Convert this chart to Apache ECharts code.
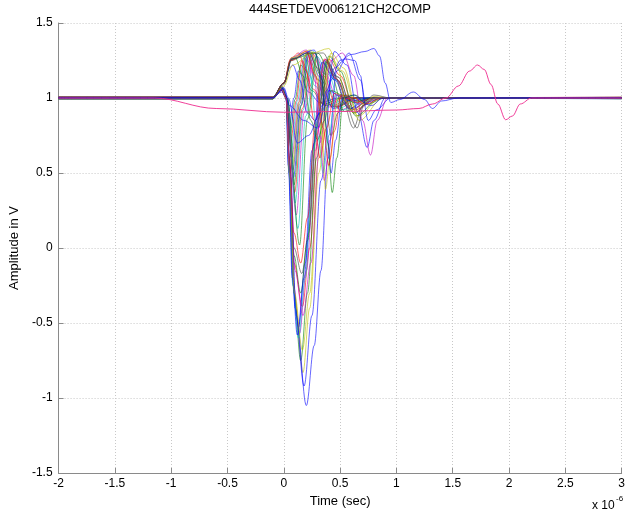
<!DOCTYPE html>
<html>
<head>
<meta charset="utf-8">
<script src="https://cdn.jsdelivr.net/npm/echarts@6/dist/echarts.min.js"></script>
<style>html,body{margin:0;padding:0;background:#fff}#c{width:628px;height:516px}</style>
</head>
<body>
<div id="c"></div>
<script>
// Tick settings (x in units of 1e-6 s)
const xTicks = [-2, -1.5, -1, -0.5, 0, 0.5, 1, 1.5, 2, 2.5, 3];
const yTicks = [-1.5, -1, -0.5, 0, 0.5, 1, 1.5];

// Early-drop waveforms (shallow first dip)
const wA01 = [[-2,1.006],[-0.1,1.006],[-0.02,1.04],[0.02,1.01],[0.05,0.82],[0.09,1.0],[0.13,1.18],[0.22,1.04],[0.32,0.97],[0.5,1.002],[3,1.004]];
const wA02 = [[-2,0.995],[-0.1,0.995],[-0.02,1.05],[0.02,1.0],[0.055,0.76],[0.1,0.99],[0.15,1.22],[0.25,1.05],[0.35,0.96],[0.52,1.0],[3,0.996]];
const wA03 = [[-2,1.008],[-0.1,1.008],[-0.02,1.05],[0.02,1.0],[0.06,0.7],[0.11,0.98],[0.16,1.25],[0.26,1.06],[0.36,0.95],[0.55,1.0],[3,1.006]];
const wA04 = [[-2,0.993],[-0.1,0.993],[-0.02,1.06],[0.02,1.0],[0.065,0.65],[0.12,0.98],[0.18,1.27],[0.28,1.08],[0.38,0.95],[0.58,1.0],[3,0.994]];
const wA05 = [[-2,1.002],[-0.1,1.002],[-0.02,1.06],[0.02,1.01],[0.07,0.6],[0.13,0.97],[0.19,1.28],[0.29,1.1],[0.4,0.94],[0.6,1.0],[3,1.001]];
const wA06 = [[-2,0.999],[-0.1,0.999],[-0.02,1.05],[0.025,1.0],[0.075,0.56],[0.135,0.97],[0.2,1.3],[0.3,1.12],[0.42,0.95],[0.62,1.0],[3,0.999]];
const wA07 = [[-2,1.005],[-0.1,1.005],[-0.02,1.06],[0.025,1.0],[0.08,0.52],[0.14,0.96],[0.21,1.3],[0.31,1.12],[0.43,0.94],[0.63,1.0],[3,1.003]];
const wA08 = [[-2,0.996],[-0.1,0.996],[-0.02,1.07],[0.025,1.0],[0.085,0.47],[0.15,0.95],[0.22,1.31],[0.32,1.14],[0.44,0.93],[0.64,1.0],[3,0.997]];
const wA09 = [[-2,1.003],[-0.1,1.003],[-0.02,1.06],[0.025,1.0],[0.09,0.42],[0.155,0.95],[0.23,1.31],[0.33,1.15],[0.45,0.94],[0.65,1.0],[3,1.002]];
const wA10 = [[-2,0.998],[-0.1,0.998],[-0.02,1.07],[0.03,1.0],[0.095,0.37],[0.165,0.93],[0.25,1.3],[0.35,1.15],[0.47,0.94],[0.66,1.0],[3,0.998]];
const wA11 = [[-2,1.001],[-0.1,1.001],[-0.02,1.07],[0.03,1.0],[0.1,0.3],[0.17,0.92],[0.26,1.31],[0.36,1.16],[0.48,0.93],[0.68,1.0],[3,1.0]];
const wA12 = [[-2,0.994],[-0.1,0.994],[-0.02,1.08],[0.03,1.0],[0.11,0.22],[0.18,0.9],[0.27,1.3],[0.37,1.16],[0.5,0.92],[0.7,1.0],[3,0.995]];
const wA13 = [[-2,1.007],[-0.1,1.007],[-0.02,1.07],[0.03,1.0],[0.125,0.13],[0.195,0.88],[0.29,1.28],[0.39,1.16],[0.52,0.92],[0.72,1.0],[3,1.005]];
const wA14 = [[-2,0.997],[-0.1,0.997],[-0.02,1.08],[0.03,1.0],[0.14,0.02],[0.21,0.86],[0.3,1.3],[0.41,1.17],[0.54,0.91],[0.74,1.0],[3,0.997]];

// Early-drop waveforms (deep first dip)
const wD01 = [[-2,1.002],[-0.1,1.002],[-0.02,1.06],[0.02,1.02],[0.05,0.6],[0.09,0.0],[0.16,-0.17],[0.22,0.1],[0.3,0.85],[0.38,1.24],[0.48,1.12],[0.62,0.8],[0.7,0.95],[0.82,1.0],[3,1.001]];
const wD02 = [[-2,0.996],[-0.1,0.996],[-0.02,1.05],[0.02,1.01],[0.05,0.55],[0.09,-0.1],[0.165,-0.39],[0.23,0.0],[0.31,0.8],[0.4,1.26],[0.5,1.15],[0.63,0.92],[0.82,1.0],[3,0.997]];
const wD03 = [[-2,1.004],[-0.1,1.004],[-0.02,1.06],[0.02,1.0],[0.045,0.55],[0.08,-0.2],[0.13,-0.53],[0.19,-0.1],[0.27,0.7],[0.36,1.25],[0.47,1.12],[0.6,0.93],[0.8,1.0],[3,1.003]];
const wD04 = [[-2,0.999],[-0.1,0.999],[-0.02,1.06],[0.02,1.0],[0.045,0.5],[0.085,-0.25],[0.14,-0.57],[0.2,-0.15],[0.28,0.65],[0.37,1.26],[0.48,1.14],[0.62,0.9],[0.82,1.0],[3,1.0]];
const wD05 = [[-2,1.001],[-0.1,1.001],[-0.02,1.07],[0.02,1.0],[0.05,0.5],[0.09,-0.3],[0.15,-0.75],[0.21,-0.3],[0.29,0.6],[0.4,1.28],[0.5,1.18],[0.64,0.88],[0.85,1.0],[3,1.0]];
const wD06 = [[-2,0.998],[-0.1,0.998],[-0.02,1.06],[0.02,1.0],[0.055,0.5],[0.1,-0.35],[0.17,-0.83],[0.23,-0.4],[0.31,0.5],[0.42,1.3],[0.53,1.2],[0.67,0.85],[0.88,1.0],[3,0.999]];
const wD07 = [[-2,1.005],[-0.1,1.005],[-0.02,1.07],[0.02,1.0],[0.055,0.5],[0.1,-0.4],[0.18,-0.92],[0.25,-0.45],[0.33,0.45],[0.45,1.31],[0.56,1.22],[0.66,0.9],[0.74,0.67],[0.8,0.85],[0.9,1.0],[3,1.003]];
const wD08 = [[-2,0.997],[-0.1,0.997],[-0.02,1.06],[0.02,1.0],[0.06,0.5],[0.11,-0.45],[0.2,-1.05],[0.27,-0.65],[0.33,-0.15],[0.39,0.59],[0.47,1.18],[0.58,1.3],[0.68,1.12],[0.75,0.85],[0.82,0.92],[0.95,1.0],[3,0.998]];
const wD09 = [[-2,1.003],[-0.1,1.003],[-0.02,1.06],[0.02,1.0],[0.045,0.5],[0.08,-0.25],[0.13,-0.6],[0.19,-0.2],[0.26,0.65],[0.35,1.24],[0.46,1.12],[0.6,0.92],[0.78,1.0],[3,1.002]];
const wD10 = [[-2,0.995],[-0.1,0.995],[-0.02,1.06],[0.02,1.0],[0.05,0.55],[0.09,-0.05],[0.15,-0.3],[0.21,0.05],[0.29,0.8],[0.38,1.25],[0.48,1.14],[0.62,0.9],[0.8,1.0],[3,0.996]];
const wD11 = [[-2,1.001],[-0.1,1.001],[-0.02,1.05],[0.02,1.0],[0.04,0.55],[0.075,-0.2],[0.12,-0.58],[0.18,-0.2],[0.25,0.65],[0.34,1.24],[0.45,1.12],[0.58,0.93],[0.76,1.0],[3,1.0]];
const wD12 = [[-2,1.006],[-0.1,1.006],[-0.02,1.06],[0.02,1.0],[0.05,0.6],[0.09,0.1],[0.15,-0.1],[0.21,0.2],[0.28,0.85],[0.36,1.26],[0.46,1.13],[0.6,0.92],[0.78,1.0],[3,1.004]];
const wD13 = [[-2,0.998],[-0.1,0.998],[-0.02,1.06],[0.02,1.0],[0.05,0.5],[0.095,-0.3],[0.165,-0.68],[0.23,-0.3],[0.31,0.6],[0.41,1.28],[0.52,1.18],[0.66,0.88],[0.86,1.0],[3,0.999]];
const wD14 = [[-2,1.002],[-0.1,1.002],[-0.02,1.06],[0.02,1.0],[0.05,0.55],[0.1,-0.15],[0.17,-0.45],[0.24,-0.1],[0.32,0.7],[0.42,1.25],[0.52,1.3],[0.62,1.15],[0.7,0.85],[0.77,0.62],[0.83,0.85],[0.92,1.0],[3,1.001]];

// Rise-first waveforms
const wB01 = [[-2,1.0],[-0.1,1.0],[0.0,1.1],[0.05,1.2],[0.08,1.22],[0.14,1.12],[0.21,0.9],[0.28,0.85],[0.34,0.95],[0.4,1.05],[0.5,1.01],[0.6,0.98],[0.75,1.0],[3,1.0]];
const wB02 = [[-2,1.004],[-0.1,1.004],[0.0,1.1],[0.06,1.25],[0.1,1.27],[0.17,1.15],[0.24,0.85],[0.3,0.72],[0.36,0.85],[0.42,1.05],[0.52,1.02],[0.62,0.97],[0.78,1.0],[3,1.003]];
const wB03 = [[-2,0.996],[-0.1,0.996],[0.0,1.1],[0.06,1.26],[0.13,1.3],[0.2,1.18],[0.27,0.85],[0.32,0.6],[0.38,0.8],[0.45,1.03],[0.55,1.0],[0.65,0.97],[0.8,1.0],[3,0.997]];
const wB04 = [[-2,1.002],[-0.1,1.002],[0.0,1.1],[0.06,1.25],[0.16,1.3],[0.23,1.15],[0.3,0.75],[0.35,0.5],[0.4,0.75],[0.46,1.02],[0.56,1.01],[0.66,0.96],[0.82,1.0],[3,1.001]];
const wB05 = [[-2,0.999],[-0.1,0.999],[0.0,1.1],[0.07,1.27],[0.2,1.32],[0.27,1.15],[0.32,0.75],[0.36,0.45],[0.41,0.72],[0.47,1.02],[0.57,1.0],[0.67,0.96],[0.84,1.0],[3,0.999]];
const wB06 = [[-2,1.005],[-0.1,1.005],[0.0,1.1],[0.07,1.27],[0.24,1.32],[0.3,1.15],[0.34,0.75],[0.37,0.39],[0.41,0.6],[0.48,1.0],[0.58,1.02],[0.7,0.97],[0.86,1.0],[3,1.004]];
const wB07 = [[-2,0.998],[-0.1,0.998],[0.0,1.09],[0.07,1.25],[0.2,1.3],[0.35,1.3],[0.45,1.15],[0.55,0.95],[0.65,0.8],[0.72,0.98],[0.8,1.02],[0.95,1.0],[3,0.998]];
const wB08 = [[-2,1.003],[-0.1,1.003],[0.0,1.1],[0.07,1.26],[0.27,1.32],[0.33,1.15],[0.38,0.8],[0.42,0.5],[0.46,0.72],[0.52,1.0],[0.62,1.02],[0.72,0.97],[0.88,1.0],[3,1.002]];
const wB09 = [[-2,0.995],[-0.1,0.995],[0.0,1.1],[0.07,1.26],[0.28,1.3],[0.34,1.12],[0.39,0.7],[0.43,0.37],[0.47,0.6],[0.53,1.0],[0.63,1.02],[0.74,0.96],[0.9,1.0],[3,0.996]];
const wB10 = [[-2,1.001],[-0.1,1.001],[0.0,1.1],[0.06,1.25],[0.2,1.31],[0.28,1.15],[0.35,0.8],[0.4,0.55],[0.45,0.78],[0.51,1.02],[0.62,1.0],[0.72,0.96],[0.88,1.0],[3,1.0]];
const wB11 = [[-2,0.997],[-0.1,0.997],[0.0,1.08],[0.08,1.22],[0.25,1.3],[0.4,1.33],[0.48,1.2],[0.55,0.98],[0.62,0.9],[0.7,0.96],[0.8,1.01],[0.95,1.0],[3,0.998]];
const wB12 = [[-2,1.004],[-0.1,1.004],[0.0,1.1],[0.07,1.26],[0.22,1.3],[0.3,1.2],[0.37,0.95],[0.42,0.75],[0.48,0.9],[0.55,1.02],[0.65,0.98],[0.8,1.0],[3,1.003]];

// Late waveforms
const wL01 = [[-2,1.002],[-0.1,1.002],[0.0,1.06],[0.05,0.95],[0.18,0.85],[0.3,0.8],[0.37,0.95],[0.42,1.12],[0.5,1.25],[0.6,1.29],[0.72,1.31],[0.8,1.33],[0.85,1.28],[0.9,1.1],[0.95,0.97],[1.03,0.99],[1.15,1.04],[1.25,0.99],[1.32,0.93],[1.4,0.98],[1.55,1.0],[3,1.001]];
const wL02 = [[-2,0.998],[-0.1,0.998],[0.0,1.07],[0.04,1.0],[0.12,0.7],[0.22,0.75],[0.32,0.9],[0.38,1.05],[0.45,1.2],[0.55,1.26],[0.63,1.25],[0.68,1.15],[0.72,0.96],[0.78,0.95],[0.88,1.0],[3,0.999]];

// Slow drifting waveform
const wP01 = [[-2,1.0],[-1.15,1.0],[-0.6,0.93],[0,0.905],[0.5,0.91],[1.0,0.92],[1.2,0.93],[1.32,0.96],[1.44,1.0],[1.55,1.08],[1.65,1.18],[1.72,1.22],[1.78,1.19],[1.84,1.09],[1.9,0.96],[1.97,0.855],[2.03,0.88],[2.1,0.96],[2.2,1.0],[3,1.0]];

const waves = [wA01,wA02,wA03,wA04,wA05,wA06,wA07,wA08,wA09,wA10,wA11,wA12,wA13,wA14,
  wD01,wD02,wD03,wD04,wD05,wD06,wD07,wD08,wD09,wD10,wD11,wD12,wD13,wD14,
  wB01,wB02,wB03,wB04,wB05,wB06,wB07,wB08,wB09,wB10,wB11,wB12,
  wL01,wL02,wP01];
const colorKeys = ['b','g','r','c','m','y','k','b','g','r','c','m','c','g',
  'k','r','b','m','g','y','b','b','c','g','b','r','y','m',
  'b','g','r','c','m','y','k','b','g','r','y','k',
  'b','b','p'];
const palette = {b:'#0000ff', g:'#008000', r:'#ff0000', c:'#00bfbf', m:'#bf00bf', y:'#bfbf00', k:'#404040', p:'#ee2b8f'};

const FONT = "'Liberation Sans', Arial, sans-serif";
const chart = echarts.init(document.getElementById('c'), null, {renderer:'canvas'});
const series = waves.map((w, i) => ({
  type: 'line',
  data: w,
  symbol: 'none',
  smooth: 0.35,
  smoothMonotone: 'x',
  silent: true,
  lineStyle: {width: 1, color: palette[colorKeys[i]], opacity: colorKeys[i] === 'p' ? 0.9 : 0.6},
  z: colorKeys[i] === 'p' ? 3 : 2
}));

chart.setOption({
  animation: false,
  backgroundColor: '#fff',
  grid: {left: 56, right: 4, top: 23, bottom: 43, containLabel: false},
  xAxis: {
    type: 'value', min: xTicks[0], max: xTicks[xTicks.length-1], interval: 0.5,
    name: 'Time (sec)', nameLocation: 'middle', nameGap: 21,
    nameTextStyle: {fontFamily: FONT, fontSize: 13, color: '#000'},
    axisLine: {show: true, onZero: false, lineStyle: {color: '#8a8a8a', width: 1}},
    axisTick: {show: true, inside: true, length: 5, lineStyle: {color: '#8a8a8a'}},
    axisLabel: {fontFamily: FONT, fontSize: 12, color: '#000', margin: 5},
    splitLine: {show: true, lineStyle: {color: '#c8c8c8', type: [1, 2], width: 1}}
  },
  yAxis: {
    type: 'value', min: yTicks[0], max: yTicks[yTicks.length-1], interval: 0.5,
    name: 'Amplitude in V', nameLocation: 'middle', nameGap: 33, nameRotate: 90,
    nameTextStyle: {fontFamily: FONT, fontSize: 13, color: '#000'},
    axisLine: {show: true, onZero: false, lineStyle: {color: '#8a8a8a', width: 1}},
    axisTick: {show: true, inside: true, length: 5, lineStyle: {color: '#8a8a8a'}},
    axisLabel: {fontFamily: FONT, fontSize: 12, color: '#000', margin: 6},
    splitLine: {show: true, lineStyle: {color: '#c8c8c8', type: [1, 2], width: 1}}
  },
  graphic: [
    {type: 'text', x: 340, y: 9, style: {text: '444SETDEV006121CH2COMP', align: 'center', verticalAlign: 'middle', font: '13px ' + FONT, fill: '#000'}},
    {type: 'text', x: 592, y: 506, style: {text: 'x 10', align: 'left', verticalAlign: 'middle', font: '12px ' + FONT, fill: '#000'}},
    {type: 'text', x: 616, y: 499, style: {text: '-6', align: 'left', verticalAlign: 'middle', font: '8px ' + FONT, fill: '#000'}}
  ],
  series: series
});
</script>
</body>
</html>
